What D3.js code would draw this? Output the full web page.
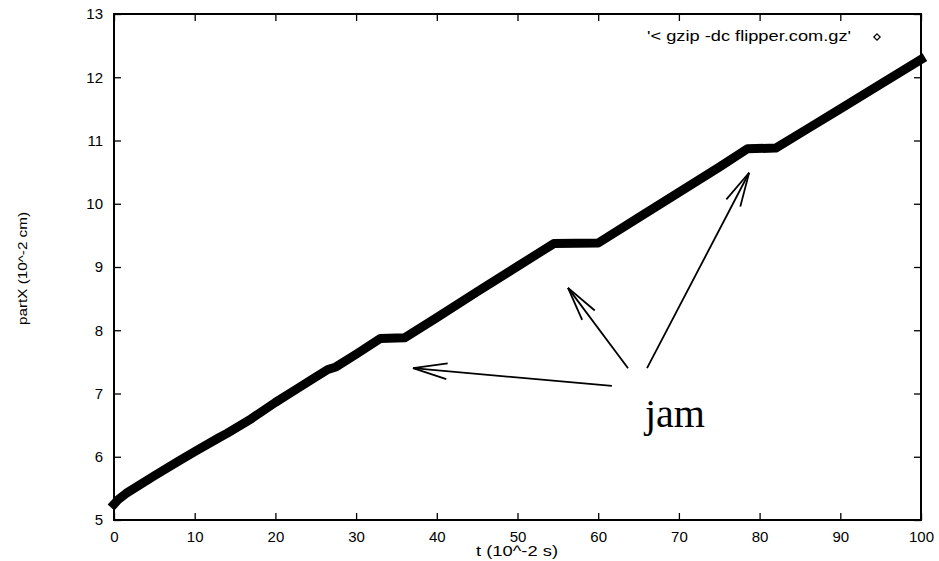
<!DOCTYPE html>
<html>
<head>
<meta charset="utf-8">
<script src="https://cdn.jsdelivr.net/npm/d3@7/dist/d3.min.js"></script>
<style>
  body { margin: 0; background: #fff; }
  text { font-family: "Liberation Sans", Arial, sans-serif; }
</style>
</head>
<body>
<div id="chart"></div>
<script>
// data
var tValues = [0, 0.5, 1.5, 5, 8, 10, 13, 14, 17, 20, 22, 25, 26.5, 27.5, 30, 33, 36, 40, 45, 50, 54.5, 60, 65, 70, 75, 78.5, 82, 86, 90, 95, 100];
var partX = [5.25, 5.32, 5.42, 5.7, 5.93, 6.08, 6.3, 6.37, 6.6, 6.86, 7.02, 7.26, 7.38, 7.42, 7.62, 7.87, 7.88, 8.2, 8.61, 9.01, 9.37, 9.38, 9.78, 10.18, 10.58, 10.87, 10.88, 11.19, 11.5, 11.89, 12.28];
var xTicks = [0, 10, 20, 30, 40, 50, 60, 70, 80, 90, 100];
var yTicks = [5, 6, 7, 8, 9, 10, 11, 12, 13];

// arrows pointing at the jams: [tailT, tailY, tipT, tipY]
var arrows = [
    [61.7, 7.12, 37.05, 7.40],
    [63.7, 7.40, 56.26, 8.67],
    [66.05, 7.40, 78.7, 10.49]
];

var svgWidth = 939;
var svgHeight = 561;
var plotLeft = 114, plotRight = 921, plotTop = 14, plotBottom = 520;

var svg = d3.select("#chart")
    .append("svg")
    .attr("width", svgWidth)
    .attr("height", svgHeight);

var x = d3.scaleLinear().domain([0, 100]).range([plotLeft, plotRight]);
var y = d3.scaleLinear().domain([5, 13]).range([plotBottom, plotTop]);

// axes, gnuplot style: inward ticks, mirrored
svg.append("g")
    .attr("transform", "translate(0," + plotBottom + ")")
    .call(d3.axisBottom(x).tickValues(xTicks).tickSize(-7).tickPadding(11));
svg.append("g")
    .attr("transform", "translate(0," + plotTop + ")")
    .call(d3.axisTop(x).tickValues(xTicks).tickSize(-7).tickFormat(""));
svg.append("g")
    .attr("transform", "translate(" + plotLeft + ",0)")
    .call(d3.axisLeft(y).tickValues(yTicks).tickSize(-7).tickPadding(11));
svg.append("g")
    .attr("transform", "translate(" + plotRight + ",0)")
    .call(d3.axisRight(y).tickValues(yTicks).tickSize(-7).tickFormat(""));

svg.selectAll(".domain").remove();
svg.selectAll(".tick line").attr("stroke", "#000").attr("stroke-width", 1.3);
svg.selectAll(".tick text")
    .attr("fill", "#000")
    .style("font-size", "15px");

// frame
svg.append("rect")
    .attr("x", plotLeft)
    .attr("y", plotTop)
    .attr("width", plotRight - plotLeft)
    .attr("height", plotBottom - plotTop)
    .attr("fill", "none")
    .attr("stroke", "#000")
    .attr("stroke-width", 2);

// axis labels
svg.append("text")
    .attr("x", 476)
    .attr("y", 556)
    .attr("textLength", 82)
    .attr("lengthAdjust", "spacingAndGlyphs")
    .style("font-size", "14px")
    .text("t (10^-2 s)");

svg.append("text")
    .attr("transform", "translate(27,325) rotate(-90)")
    .attr("textLength", 113)
    .attr("lengthAdjust", "spacingAndGlyphs")
    .style("font-size", "13.5px")
    .text("partX (10^-2 cm)");

// the data, drawn thick like densely packed diamond points
var line = d3.line()
    .x(function (d, i) { return x(tValues[i]); })
    .y(function (d) { return y(d); });

svg.append("path")
    .datum(partX)
    .attr("d", line)
    .attr("fill", "none")
    .attr("stroke", "#000")
    .attr("stroke-width", 9)
    .attr("stroke-linejoin", "round")
    .attr("stroke-linecap", "square");

// legend
svg.append("text")
    .attr("x", 647)
    .attr("y", 41)
    .attr("textLength", 204)
    .attr("lengthAdjust", "spacingAndGlyphs")
    .style("font-size", "14px")
    .text("'< gzip -dc flipper.com.gz'");

svg.append("path")
    .attr("d", d3.symbol().type(d3.symbolDiamond2).size(26))
    .attr("transform", "translate(877,37)")
    .attr("fill", "none")
    .attr("stroke", "#000")
    .attr("stroke-width", 1.2);

// arrows
var headLen = 35, headAng = 13 * Math.PI / 180;
arrows.forEach(function (a) {
    var x1 = x(a[0]), y1 = y(a[1]), x2 = x(a[2]), y2 = y(a[3]);
    var ang = Math.atan2(y1 - y2, x1 - x2);
    var g = svg.append("g")
        .attr("stroke", "#000")
        .attr("stroke-width", 1.8)
        .attr("fill", "none");
    g.append("line")
        .attr("x1", x1).attr("y1", y1)
        .attr("x2", x2).attr("y2", y2);
    [-1, 1].forEach(function (s) {
        g.append("line")
            .attr("x1", x2).attr("y1", y2)
            .attr("x2", x2 + headLen * Math.cos(ang + s * headAng))
            .attr("y2", y2 + headLen * Math.sin(ang + s * headAng));
    });
});

svg.append("text")
    .attr("x", 645)
    .attr("y", 427)
    .style("font-family", "'Liberation Serif', 'Times New Roman', serif")
    .style("font-size", "40px")
    .text("jam");
</script>
</body>
</html>
